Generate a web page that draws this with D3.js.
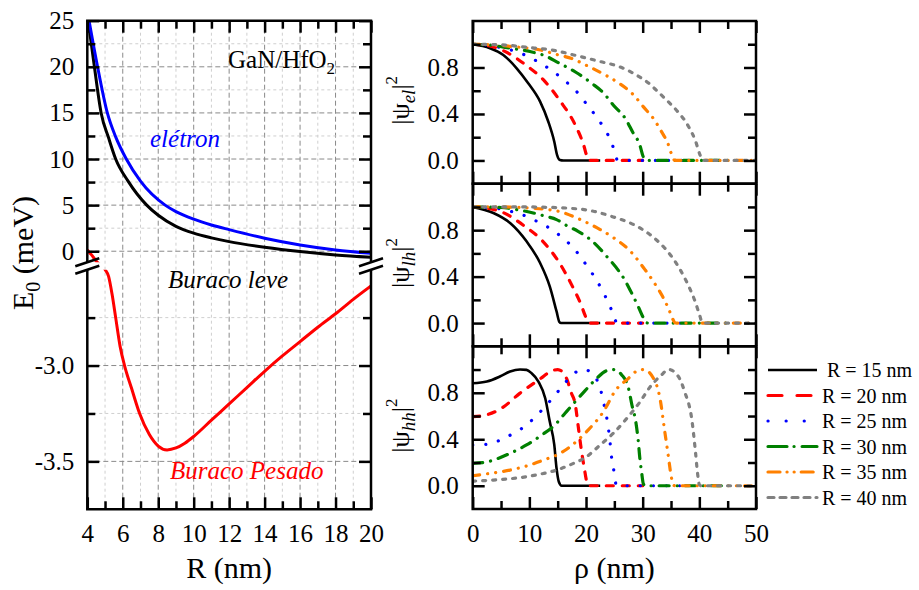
<!DOCTYPE html>
<html>
<head>
<meta charset="utf-8">
<script src="https://cdn.jsdelivr.net/npm/d3@7"></script>
<style>
  body { margin: 0; background: #fff; }
  svg { display: block; }
  text { fill: #000; }
  .tick-label { font-size: 25px; }
</style>
</head>
<body>
<svg id="chart" width="919" height="590"></svg>
<script>
// ---------------- data ----------------
// Ground-state energies E0 (meV) versus dot radius R (nm): [R, E0]
const electronE0 = [[4.1,25],[4.58,20],[5.13,15],[5.6,12.4],[6.2,10],[7,7.6],[8.39,5],[9,4.3],[10,3.48],[11,2.85],[12,2.34],[14,1.41],[16,0.68],[18,0.14],[20,-0.22]];
const lightHoleE0 = [[4.05,25],[4.4,20],[4.78,15],[5.2,12.3],[5.6,10],[6.3,7.6],[7.35,5],[8,3.9],[9,2.7],[10,1.96],[11,1.45],[12,1.04],[14,0.43],[16,-0.04],[18,-0.4],[20,-0.66]];
const heavyHoleE0 = [[4,0.14],[4.24,-0.4],[4.53,-1.13],[5.0,-2.48],[5.2,-2.535],[5.4,-2.63],[5.6,-2.75],[5.85,-2.9],[6.1,-3.0],[6.5,-3.12],[6.95,-3.25],[7.5,-3.36],[8,-3.42],[8.5,-3.44],[9,-3.43],[9.5,-3.405],[10,-3.37],[11,-3.285],[12,-3.2],[13,-3.115],[14,-3.03],[15,-2.95],[16,-2.875],[17,-2.8],[18,-2.73],[19,-2.655],[20,-2.585]];

// Radii of the probability-density curves (nm)
const radii = [15, 20, 25, 30, 35, 40];

// Electron |psi|^2 versus rho (nm): [rho, value]
const el15 = [[0,1.0],[3.06,0.966],[5.4,0.908],[7.76,0.793],[9.8,0.664],[11.9,0.506],[13.35,0.333],[14.4,0.161],[14.9,0.046],[15.4,0.004],[16,0],[22.5,0]];
const el20 = [[0,1.0],[2.5,0.99],[5.4,0.945],[9.5,0.816],[12.5,0.693],[15.4,0.514],[18.1,0.305],[19.6,0.13],[20.2,0.03],[20.5,0.002],[21,0],[30,0]];
const el25 = [[0,1.0],[3,0.99],[5.5,0.965],[8.2,0.928],[10.4,0.879],[12.65,0.816],[14.8,0.744],[16.6,0.672],[18.35,0.592],[20,0.491],[21.6,0.391],[23.2,0.276],[24.5,0.155],[25.2,0.05],[25.5,0.005],[26,0],[37.5,0]];
const el30 = [[0,1.0],[3.5,0.99],[6.6,0.966],[10.1,0.937],[12.8,0.9],[15.1,0.842],[18.2,0.759],[21,0.664],[23.1,0.58],[24.8,0.477],[27,0.356],[28.2,0.247],[29.5,0.132],[30.1,0.032],[30.6,0.003],[31,0],[45,0]];
const el35 = [[0,1.0],[5,0.99],[8,0.975],[11.3,0.957],[15.1,0.908],[17.8,0.871],[19.9,0.822],[23.6,0.73],[25.4,0.678],[28.4,0.563],[30.1,0.463],[31.9,0.36],[33.3,0.25],[34.5,0.14],[35.2,0.04],[35.6,0.003],[36,0],[50,0]];
const el40 = [[0,1.0],[5,0.995],[9.5,0.974],[14.8,0.943],[17.8,0.908],[22.5,0.851],[25.7,0.81],[28.9,0.735],[31.3,0.655],[32.5,0.6],[34,0.53],[36,0.43],[38,0.3],[39.3,0.17],[40.1,0.05],[40.5,0.005],[41,0],[50,0]];

// Light-hole |psi|^2 versus rho (nm)
const lh15 = [[0,1.0],[3.65,0.948],[6.6,0.862],[9.5,0.704],[11.9,0.517],[13.6,0.316],[14.8,0.1],[15.3,0.01],[15.6,0],[22.5,0]];
const lh20 = [[0,1.0],[2.5,0.99],[5.1,0.957],[9.2,0.833],[12.2,0.713],[15.2,0.526],[17.6,0.316],[19.2,0.15],[19.8,0.07],[20.4,0.008],[20.8,0],[30,0]];
const lh25 = [[0,1.0],[4,0.99],[6,0.97],[8.35,0.94],[10.7,0.891],[13.2,0.828],[15.2,0.761],[16.9,0.69],[18.6,0.598],[20.2,0.489],[21.8,0.374],[23.2,0.25],[24.4,0.124],[25.1,0.03],[25.5,0.002],[26,0],[37.5,0]];
const lh30 = [[0,1.0],[5,0.995],[8,0.975],[10.7,0.948],[12.8,0.92],[14.8,0.891],[16.6,0.839],[18.6,0.79],[21,0.71],[23.9,0.56],[25.7,0.454],[26.6,0.39],[27.9,0.273],[29.2,0.144],[30,0.057],[30.5,0.006],[31,0],[45,0]];
const lh35 = [[0,1.0],[5,1.0],[10,0.99],[15.1,0.963],[18.35,0.905],[22.5,0.805],[25,0.73],[27.8,0.62],[30.4,0.46],[32,0.35],[33.5,0.23],[34.6,0.12],[35.3,0.035],[35.7,0.003],[36,0],[50,0]];
const lh40 = [[0,1.0],[10,1.0],[11.9,0.998],[16.6,0.99],[21.3,0.963],[24.8,0.914],[28.4,0.848],[31.3,0.761],[33,0.69],[35,0.58],[36.5,0.47],[38,0.33],[39.3,0.18],[40.1,0.06],[40.5,0.005],[41,0],[50,0]];

// Heavy-hole |psi|^2 versus rho (nm)
const hh15 = [[0,0.882],[2.5,0.897],[4.8,0.94],[6.6,0.983],[8.35,1.0],[9.5,0.997],[10.4,0.968],[11.6,0.897],[12.8,0.753],[13.6,0.552],[14.4,0.351],[14.8,0.149],[15.2,0.034],[15.7,0],[22.5,0]];
const hh20 = [[0,0.595],[2,0.605],[5.1,0.667],[8.3,0.795],[11.9,0.92],[14,0.99],[15,1.0],[16,0.97],[16.6,0.92],[17.4,0.8],[18.1,0.7],[18.6,0.52],[19.2,0.3],[19.7,0.15],[20.1,0.04],[20.5,0],[30,0]];
const hh25 = [[0,0.351],[3.06,0.359],[5.4,0.408],[7.6,0.46],[9.7,0.532],[11.5,0.615],[13.2,0.704],[14.8,0.796],[16.5,0.897],[18.4,0.983],[19.7,1.0],[21,0.968],[22.5,0.839],[23.2,0.695],[23.8,0.543],[24.2,0.394],[24.5,0.25],[25,0.106],[25.3,0.011],[25.6,0],[37.5,0]];
const hh30 = [[0,0.193],[2,0.2],[4.2,0.23],[6.6,0.279],[9.5,0.351],[12.2,0.437],[14.5,0.523],[16.3,0.624],[18.1,0.724],[19.8,0.816],[21.9,0.925],[23.6,0.989],[24.8,1.0],[26.3,0.954],[27.5,0.839],[28.1,0.695],[28.8,0.546],[29.2,0.394],[29.5,0.236],[29.8,0.121],[30.1,0.02],[30.4,0],[45,0]];
const hh35 = [[0,0.086],[3,0.106],[6.6,0.135],[9.5,0.17],[12.5,0.221],[14.8,0.264],[17.2,0.336],[20.1,0.466],[23.1,0.64],[25.2,0.82],[27.4,0.92],[28.9,0.985],[30.2,1.0],[31.9,0.925],[33.05,0.753],[33.9,0.466],[34.5,0.264],[35,0.092],[35.4,0.006],[35.7,0],[50,0]];
const hh40 = [[0,0.04],[3.65,0.049],[9.5,0.078],[12.5,0.106],[14.8,0.135],[17.8,0.193],[20.1,0.25],[22.5,0.351],[24.8,0.451],[27.2,0.58],[29.5,0.72],[31.3,0.85],[33.2,0.948],[34.6,1.0],[36.3,0.94],[37.4,0.81],[38.7,0.56],[39.3,0.3],[39.7,0.1],[40,0.01],[40.3,0],[50,0]];

// Tick values
const rMajor = [4, 6, 8, 10, 12, 14, 16, 18, 20];
const rMinor = [5, 7, 9, 11, 13, 15, 17, 19];
const eUpperMajor = [0, 5, 10, 15, 20, 25];
const eUpperMinor = [2.5, 7.5, 12.5, 17.5, 22.5];
const eLowerMajor = [-3.5, -3.0];
const eLowerMinor = [-3.25, -2.75];
const rhoMajor = [0, 10, 20, 30, 40, 50];
const rhoMinor = [5, 15, 25, 35, 45];
const psiMajor = [0, 0.4, 0.8];
const psiMinor = [0.2, 0.6, 1.0];

// ---------------- styles ----------------
const FONT = '"Liberation Serif", "Times New Roman", Times, "DejaVu Serif", serif';
const colors = ["#000000", "#ff0000", "#0000ff", "#008000", "#ff8000", "#808080"];
const plotDash = [null, "7,9", "0.1,13", "10,8,0.1,8", "7,8,0.1,8,0.1,8", "3,7"];
const legendDash = [null, "14,15", "0.1,18", "19,7,0.1,8", "12,7,0.1,7,0.1,7", "6,6"];

const svg = d3.select("#chart").attr("font-family", FONT);

function tickAxis(axisFn, scale, values, size, transform, format, pad) {
  const axis = axisFn(scale).tickValues(values).tickSize(-size).tickPadding(pad || 0)
    .tickFormat(format || (() => ""));
  const g = svg.append("g").attr("transform", transform).call(axis);
  g.select(".domain").remove();
  g.attr("font-family", FONT).attr("font-size", null);
  g.selectAll("line").attr("stroke", "#000").attr("stroke-width", 2.5);
  g.selectAll("text").attr("class", "tick-label");
  return g;
}
const fmt1 = d => d.toFixed(1);
const fmt0 = d => String(d);

// ================= Left panel: E0 vs R with broken axis =================
const L = { x0: 87.3, x1: 371, y0: 20.7, y1: 509.3, gapTop: 262.3, gapBot: 269.7 };
const xR = d3.scaleLinear().domain([4, 20]).range([L.x0, L.x1]);
const yUp = d3.scaleLinear().domain([-1.2, 25]).range([L.gapTop, L.y0]);
const yLo = d3.scaleLinear().domain([-3.75, -2.5]).range([L.y1, L.gapBot]);
const yGap = d3.scaleLinear().domain([-2.5, -1.2]).range([L.gapBot, L.gapTop]);
const yE = v => (v >= -1.2 ? yUp(v) : v <= -2.5 ? yLo(v) : yGap(v));

// grid
const gridL = svg.append("g");
function gridV(vals, stroke, dash) {
  gridL.selectAll(null).data(vals).join("line")
    .attr("x1", d => xR(d)).attr("x2", d => xR(d))
    .attr("y1", L.y0).attr("y2", L.y1)
    .attr("stroke", stroke).attr("stroke-width", 1).attr("stroke-dasharray", dash);
}
function gridH(vals, scale, stroke, dash) {
  gridL.selectAll(null).data(vals).join("line")
    .attr("x1", L.x0).attr("x2", L.x1)
    .attr("y1", d => scale(d)).attr("y2", d => scale(d))
    .attr("stroke", stroke).attr("stroke-width", 1).attr("stroke-dasharray", dash);
}
const majorGrid = "#8a8a8a", minorGrid = "#cfcfcf";
gridV(rMinor, minorGrid, "3,3");
gridV(rMajor.slice(1, -1), majorGrid, "5,3");
gridH(eUpperMinor, yUp, minorGrid, "3,3");
gridH(eUpperMajor.slice(0, -1), yUp, majorGrid, "5,3");
gridH(eLowerMinor, yLo, minorGrid, "3,3");
gridH(eLowerMajor, yLo, majorGrid, "5,3");

// clip: the two axis sections, leaving out the break gap
const defs = svg.append("defs");
const clipL = defs.append("clipPath").attr("id", "clipLeft");
clipL.append("rect").attr("x", L.x0).attr("y", L.y0 - 2).attr("width", L.x1 - L.x0).attr("height", L.gapTop - L.y0 + 2);
clipL.append("rect").attr("x", L.x0).attr("y", L.gapBot).attr("width", L.x1 - L.x0).attr("height", L.y1 - L.gapBot);

const lineE = d3.line().x(d => xR(d[0])).y(d => yE(d[1])).curve(d3.curveMonotoneX);
const curvesL = svg.append("g").attr("clip-path", "url(#clipLeft)");
[[lightHoleE0, "#000"], [electronE0, "#0000ff"], [heavyHoleE0, "#ff0000"]].forEach(([data, c]) => {
  curvesL.append("path").datum(data).attr("d", lineE)
    .attr("fill", "none").attr("stroke", c).attr("stroke-width", 3)
    .attr("stroke-linejoin", "round");
});

// ticks (inward, both sides)
tickAxis(d3.axisBottom, xR, rMajor, 12, `translate(0,${L.y1})`, fmt0, 15);
tickAxis(d3.axisBottom, xR, rMinor, 8, `translate(0,${L.y1})`);
tickAxis(d3.axisTop, xR, rMajor, 12, `translate(0,${L.y0})`);
tickAxis(d3.axisTop, xR, rMinor, 8, `translate(0,${L.y0})`);
tickAxis(d3.axisLeft, yUp, eUpperMajor, 12, `translate(${L.x0},0)`, fmt0, 13);
tickAxis(d3.axisLeft, yUp, eUpperMinor, 8, `translate(${L.x0},0)`);
tickAxis(d3.axisLeft, yLo, eLowerMajor, 12, `translate(${L.x0},0)`, fmt1, 13);
tickAxis(d3.axisLeft, yLo, eLowerMinor, 8, `translate(${L.x0},0)`);
tickAxis(d3.axisRight, yUp, eUpperMajor, 12, `translate(${L.x1},0)`);
tickAxis(d3.axisRight, yUp, eUpperMinor, 8, `translate(${L.x1},0)`);
tickAxis(d3.axisRight, yLo, eLowerMajor, 12, `translate(${L.x1},0)`);
tickAxis(d3.axisRight, yLo, eLowerMinor, 8, `translate(${L.x1},0)`);

// frame with the axis break
const frameL = svg.append("g").attr("stroke", "#000").attr("stroke-width", 2.5).attr("fill", "none");
frameL.append("line").attr("x1", L.x0 - 1.25).attr("x2", L.x1 + 1.25).attr("y1", L.y0).attr("y2", L.y0);
frameL.append("line").attr("x1", L.x0 - 1.25).attr("x2", L.x1 + 1.25).attr("y1", L.y1).attr("y2", L.y1);
[L.x0, L.x1].forEach(x => {
  frameL.append("line").attr("x1", x).attr("x2", x).attr("y1", L.y0).attr("y2", L.gapTop);
  frameL.append("line").attr("x1", x).attr("x2", x).attr("y1", L.gapBot).attr("y2", L.y1);
  [L.gapTop, L.gapBot].forEach(y => {
    frameL.append("line").attr("x1", x - 12).attr("y1", y + 4).attr("x2", x + 12).attr("y2", y - 4);
  });
});

// annotations
const gan = svg.append("text").attr("x", 228).attr("y", 68).style("font-size", "25px");
gan.append("tspan").text("GaN/HfO");
gan.append("tspan").attr("dy", 6).style("font-size", "17px").text("2");
svg.append("text").attr("x", 150).attr("y", 147).style("font-size", "25px").style("font-style", "italic")
  .style("fill", "#0000ff").text("elétron");
svg.append("text").attr("x", 168).attr("y", 288).style("font-size", "25px").style("font-style", "italic")
  .text("Buraco leve");
svg.append("text").attr("x", 170).attr("y", 479).style("font-size", "25px").style("font-style", "italic")
  .style("fill", "#ff0000").text("Buraco Pesado");

// axis titles
svg.append("text").attr("x", (L.x0 + L.x1) / 2).attr("y", 578).attr("text-anchor", "middle")
  .style("font-size", "30px").text("R (nm)");
const eLab = svg.append("text").attr("transform", "translate(33,253) rotate(-90)")
  .attr("text-anchor", "middle").style("font-size", "30px");
eLab.append("tspan").text("E");
eLab.append("tspan").attr("dy", 7).style("font-size", "20px").text("0");
eLab.append("tspan").attr("dy", -7).text(" (meV)");

// ================= Right panels: |psi|^2 vs rho =================
const P = { x0: 472.7, x1: 756 };
const xRho = d3.scaleLinear().domain([0, 50]).range([P.x0, P.x1]);
const panels = [
  { top: 21, bottom: 183.7, sub: "el", series: [el15, el20, el25, el30, el35, el40] },
  { top: 183.7, bottom: 346.3, sub: "lh", series: [lh15, lh20, lh25, lh30, lh35, lh40] },
  { top: 346.3, bottom: 509, sub: "hh", series: [hh15, hh20, hh25, hh30, hh35, hh40] }
];

panels.forEach((p, pi) => {
  const y = d3.scaleLinear().domain([-0.2, 1.2]).range([p.bottom, p.top]);
  const clipId = "clipP" + pi;
  defs.append("clipPath").attr("id", clipId).append("rect")
    .attr("x", P.x0).attr("y", p.top).attr("width", P.x1 - P.x0).attr("height", p.bottom - p.top);

  const line = d3.line().x(d => xRho(d[0])).y(d => y(d[1])).curve(d3.curveMonotoneX);
  const g = svg.append("g").attr("clip-path", `url(#${clipId})`);
  p.series.forEach((data, i) => {
    g.append("path").datum(data).attr("d", line)
      .attr("fill", "none").attr("stroke", colors[i])
      .attr("stroke-width", i === 0 ? 2.6 : 3.2)
      .attr("stroke-dasharray", plotDash[i])
      .attr("stroke-linecap", i === 0 ? "butt" : "round")
      .attr("stroke-linejoin", "round");
  });

  tickAxis(d3.axisLeft, y, psiMajor, 12, `translate(${P.x0},0)`, fmt1, 14);
  tickAxis(d3.axisLeft, y, psiMinor, 8, `translate(${P.x0},0)`);
  tickAxis(d3.axisRight, y, psiMajor, 12, `translate(${P.x1},0)`);
  tickAxis(d3.axisRight, y, psiMinor, 8, `translate(${P.x1},0)`);
  tickAxis(d3.axisTop, xRho, rhoMajor, 12, `translate(0,${p.top})`);
  tickAxis(d3.axisTop, xRho, rhoMinor, 8, `translate(0,${p.top})`);
  tickAxis(d3.axisBottom, xRho, rhoMajor, 12, `translate(0,${p.bottom})`, pi === 2 ? fmt0 : null, 15);
  tickAxis(d3.axisBottom, xRho, rhoMinor, 8, `translate(0,${p.bottom})`);

  svg.append("rect").attr("x", P.x0).attr("y", p.top).attr("width", P.x1 - P.x0).attr("height", p.bottom - p.top)
    .attr("fill", "none").attr("stroke", "#000").attr("stroke-width", 2.5);

  const cy = (p.top + p.bottom) / 2 - 2;
  const lab = svg.append("text").attr("transform", `translate(409,${cy}) rotate(-90)`)
    .attr("text-anchor", "middle").style("font-size", "26px");
  lab.append("tspan").text("|ψ");
  lab.append("tspan").attr("dy", 6).style("font-size", "19px").style("font-style", "italic").text(p.sub);
  lab.append("tspan").attr("dy", -6).text("|");
  lab.append("tspan").attr("dy", -12).style("font-size", "17px").text("2");
});

svg.append("text").attr("x", (P.x0 + P.x1) / 2).attr("y", 578).attr("text-anchor", "middle")
  .style("font-size", "30px").text("ρ (nm)");

// legend
const leg = svg.append("g");
radii.forEach((r, i) => {
  const yy = 370 + i * 25.5;
  leg.append("line").attr("x1", 768).attr("x2", 817).attr("y1", yy).attr("y2", yy)
    .attr("stroke", colors[i]).attr("stroke-width", i === 0 ? 2.6 : 3.2)
    .attr("stroke-dasharray", legendDash[i])
    .attr("stroke-linecap", i === 0 ? "butt" : "round");
  leg.append("text").attr("x", i === 0 ? 827 : 822).attr("y", yy).attr("dy", "0.35em")
    .style("font-size", "20px").text(`R = ${r} nm`);
});

// serif face for every label
svg.selectAll("text").style("font-family", FONT);
</script>
</body>
</html>
